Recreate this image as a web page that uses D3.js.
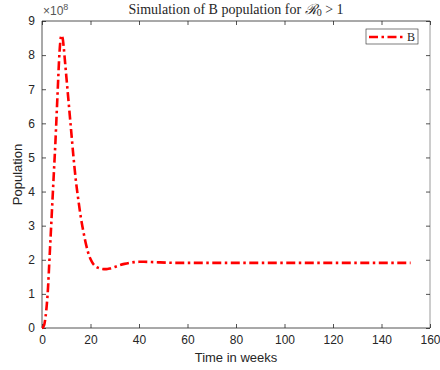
<!DOCTYPE html>
<html><head><meta charset="utf-8">
<script src="https://cdn.jsdelivr.net/npm/d3@7"></script>
<style>body{margin:0;background:#fff}svg{display:block}</style>
</head><body>
<script>
const timeWeeks = [0,0.5,1,1.5,2,2.5,3,3.5,4,4.5,5,5.5,6,6.5,7,7.5,8,8.5,9,9.5,10,11,12,13,14,15,16,17,18,19,20,21,22,23,24,25,26,27,28,30,32,34,36,38,40,42,45,48,52,56,60,70,80,90,100,110,120,130,140,152];
const populationB = [0,0.03,0.12,0.35,0.7,1.2,1.9,2.6,3.3,4.0,4.7,5.4,6.2,7.0,7.8,8.35,8.58,8.5,8.2,7.8,7.4,6.6,5.8,5.0,4.3,3.75,3.25,2.85,2.5,2.22,2.02,1.89,1.81,1.77,1.745,1.73,1.725,1.73,1.745,1.79,1.84,1.88,1.91,1.93,1.94,1.94,1.935,1.925,1.915,1.91,1.91,1.91,1.91,1.91,1.91,1.91,1.91,1.91,1.91,1.91];
const xTicks = [0,20,40,60,80,100,120,140,160];
const yTicks = [0,1,2,3,4,5,6,7,8,9];
const seriesName = "B";

const W=440,H=370;
const m={l:42,r:10,t:21,b:42};
const svg=d3.select("body").append("svg").attr("width",W).attr("height",H);
const x=d3.scaleLinear().domain([0,160]).range([m.l,W-m.r]);
const y=d3.scaleLinear().domain([0,9]).range([H-m.b,m.t]);
const axc="#262626", font="'Liberation Sans',Arial,sans-serif";

// box
svg.append("line").attr("x1",x(0)).attr("x2",x(160)).attr("y1",y(9)).attr("y2",y(9)).attr("stroke",axc).attr("stroke-width",0.8);
svg.append("line").attr("x1",x(160)).attr("x2",x(160)).attr("y1",y(0)).attr("y2",y(9)).attr("stroke","#9a9a9a").attr("stroke-width",1);

const xa=svg.append("g").attr("transform",`translate(0,${y(0)})`)
  .call(d3.axisBottom(x).tickValues(xTicks).tickSize(-4).tickPadding(7).tickFormat(d3.format("d")));
const xt=svg.append("g").attr("transform",`translate(0,${y(9)})`)
  .call(d3.axisTop(x).tickValues(xTicks).tickSize(-4).tickFormat(""));
const ya=svg.append("g").attr("transform",`translate(${x(0)},0)`)
  .call(d3.axisLeft(y).tickValues(yTicks).tickSize(-4).tickPadding(7).tickFormat(d3.format("d")));
const yr=svg.append("g").attr("transform",`translate(${x(160)},0)`)
  .call(d3.axisRight(y).tickValues(yTicks).tickSize(-4).tickFormat(""));
[xa,xt,ya,yr].forEach(g=>{
  g.select(".domain").remove();
  g.selectAll(".tick line").attr("stroke",axc).attr("stroke-width",0.8);
  g.selectAll("text").attr("fill",axc).style("font-family",font).style("font-size","12px");
});
svg.append("line").attr("x1",x(0)).attr("x2",x(160)).attr("y1",y(0)).attr("y2",y(0)).attr("stroke",axc).attr("stroke-width",0.8);
svg.append("line").attr("x1",x(0)).attr("x2",x(0)).attr("y1",y(0)).attr("y2",y(9)).attr("stroke",axc).attr("stroke-width",0.8);

// exponent
const ex=svg.append("text").attr("x",x(0)+1).attr("y",y(9)-6).attr("fill","#555")
  .style("font-family",font).style("font-size","12px");
ex.append("tspan").text("×10");
ex.append("tspan").attr("dy",-5).style("font-size","9px").text("8");

// line
const line=d3.line().x((d,i)=>x(timeWeeks[i])).y(d=>y(d)).curve(d3.curveMonotoneX);
svg.append("path").datum(populationB).attr("d",line).attr("fill","none")
  .attr("stroke","#ff0000").attr("stroke-width",2.6).attr("stroke-dasharray","9,3.5,2.5,3.5");

// title
const title=svg.append("text").attr("x",(x(0)+x(160))/2).attr("y",14).attr("text-anchor","middle")
  .attr("fill","#262626").style("font-family","'Liberation Serif','Times New Roman',serif").style("font-size","14px");
title.append("tspan").text("Simulation of B population for ");
title.append("tspan").style("font-family","'DejaVu Serif',serif").style("font-style","italic").text("ℛ");
title.append("tspan").attr("dy",2).style("font-size","10px").text("0");
title.append("tspan").attr("dy",-2).text(" > 1");

// axis labels
svg.append("text").attr("x",(x(0)+x(160))/2).attr("y",362).attr("text-anchor","middle").attr("fill",axc)
  .style("font-family",font).style("font-size","13px").text("Time in weeks");
svg.append("text").attr("transform",`translate(22,${(y(0)+y(9))/2}) rotate(-90)`).attr("text-anchor","middle").attr("fill",axc)
  .style("font-family",font).style("font-size","13px").text("Population");

// legend
const lg=svg.append("g");
lg.append("rect").attr("x",366).attr("y",29).attr("width",52).attr("height",15).attr("fill","#fff").attr("stroke","#262626").attr("stroke-width",0.6);
lg.append("line").attr("x1",369).attr("x2",404).attr("y1",37).attr("y2",37).attr("stroke","#ff0000").attr("stroke-width",2.6).attr("stroke-dasharray","9,3.5,2.5,3.5");
lg.append("text").attr("x",407).attr("y",41).attr("fill","#262626").style("font-family","'Liberation Serif',serif").style("font-size","12px").text(seriesName);
</script>
</body></html>
